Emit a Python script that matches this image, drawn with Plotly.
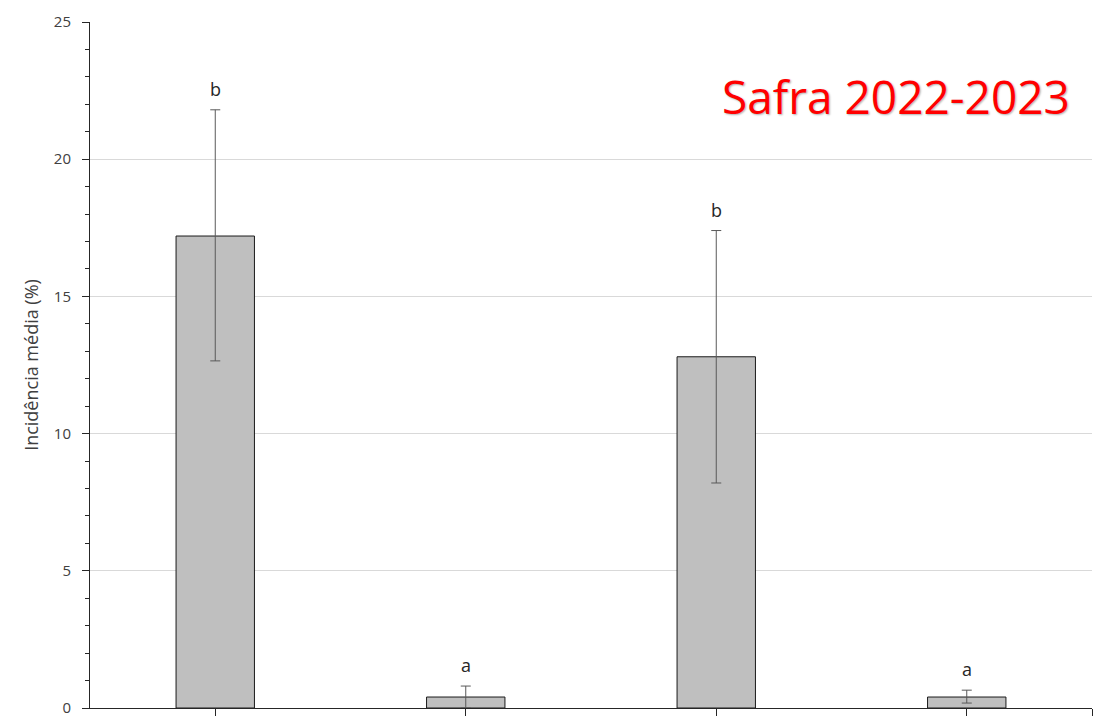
import plotly.graph_objects as go

# treatments (no labels are printed on the x axis in the original)
positions = [1, 2, 3, 4]
incidence = [17.2, 0.4, 12.8, 0.4]
error_plus = [4.6, 0.4, 4.6, 0.25]
error_minus = [4.55, 0.4, 4.6, 0.22]
letters = ["b", "a", "b", "a"]

fig = go.Figure()
fig.add_trace(
    go.Bar(
        x=positions,
        y=incidence,
        width=0.313,
        marker=dict(color="#bfbfbf", line=dict(color="#1a1a1a", width=1)),
        error_y=dict(
            type="data",
            symmetric=False,
            array=error_plus,
            arrayminus=error_minus,
            color="#595959",
            thickness=1,
            width=5,
        ),
        hovertemplate="%{y:.1f}%<extra></extra>",
    )
)

for x, y, up, letter in zip(positions, incidence, error_plus, letters):
    fig.add_annotation(
        x=x, y=y + up, text=letter, showarrow=False,
        yanchor="bottom", yshift=7,
        font=dict(family="Open Sans", size=18, color="#262626"),
    )

fig.add_annotation(
    xref="paper", yref="paper", x=0.98, y=0.892,
    xanchor="right", yanchor="middle",
    text="Safra 2022-2023", showarrow=False,
    font=dict(family="Open Sans", size=46, color="#ff0000",
              shadow="1px 1px 2px #b0b0b0"),
)

fig.update_layout(
    width=1102,
    height=720,
    margin=dict(l=82, r=18, t=14, b=20),
    plot_bgcolor="white",
    paper_bgcolor="white",
    showlegend=False,
    font=dict(family="Open Sans", color="#595959"),
    xaxis=dict(
        range=[0.5, 4.5],
        tickvals=[1, 2, 3, 4, 4.5],
        ticktext=["", "", "", "", ""],
        ticks="outside",
        ticklen=7,
        tickcolor="#262626",
        showline=True,
        linecolor="#262626",
        linewidth=1,
        showgrid=False,
        zeroline=False,
        automargin=False,
    ),
    yaxis=dict(
        range=[0, 25],
        dtick=5,
        ticks="outside",
        ticklen=7,
        tickcolor="#262626",
        tickfont=dict(size=15, color="#404040"),
        ticklabelstandoff=8,
        showline=True,
        linecolor="#262626",
        linewidth=1,
        showgrid=True,
        gridcolor="#d9d9d9",
        zeroline=False,
        automargin=False,
        minor=dict(dtick=1, ticks="outside", ticklen=4, tickcolor="#262626", showgrid=False),
        title=dict(text="Incidência média (%)", font=dict(size=18, color="#404040"), standoff=10),
    ),
)

fig.write_html("out.html")
